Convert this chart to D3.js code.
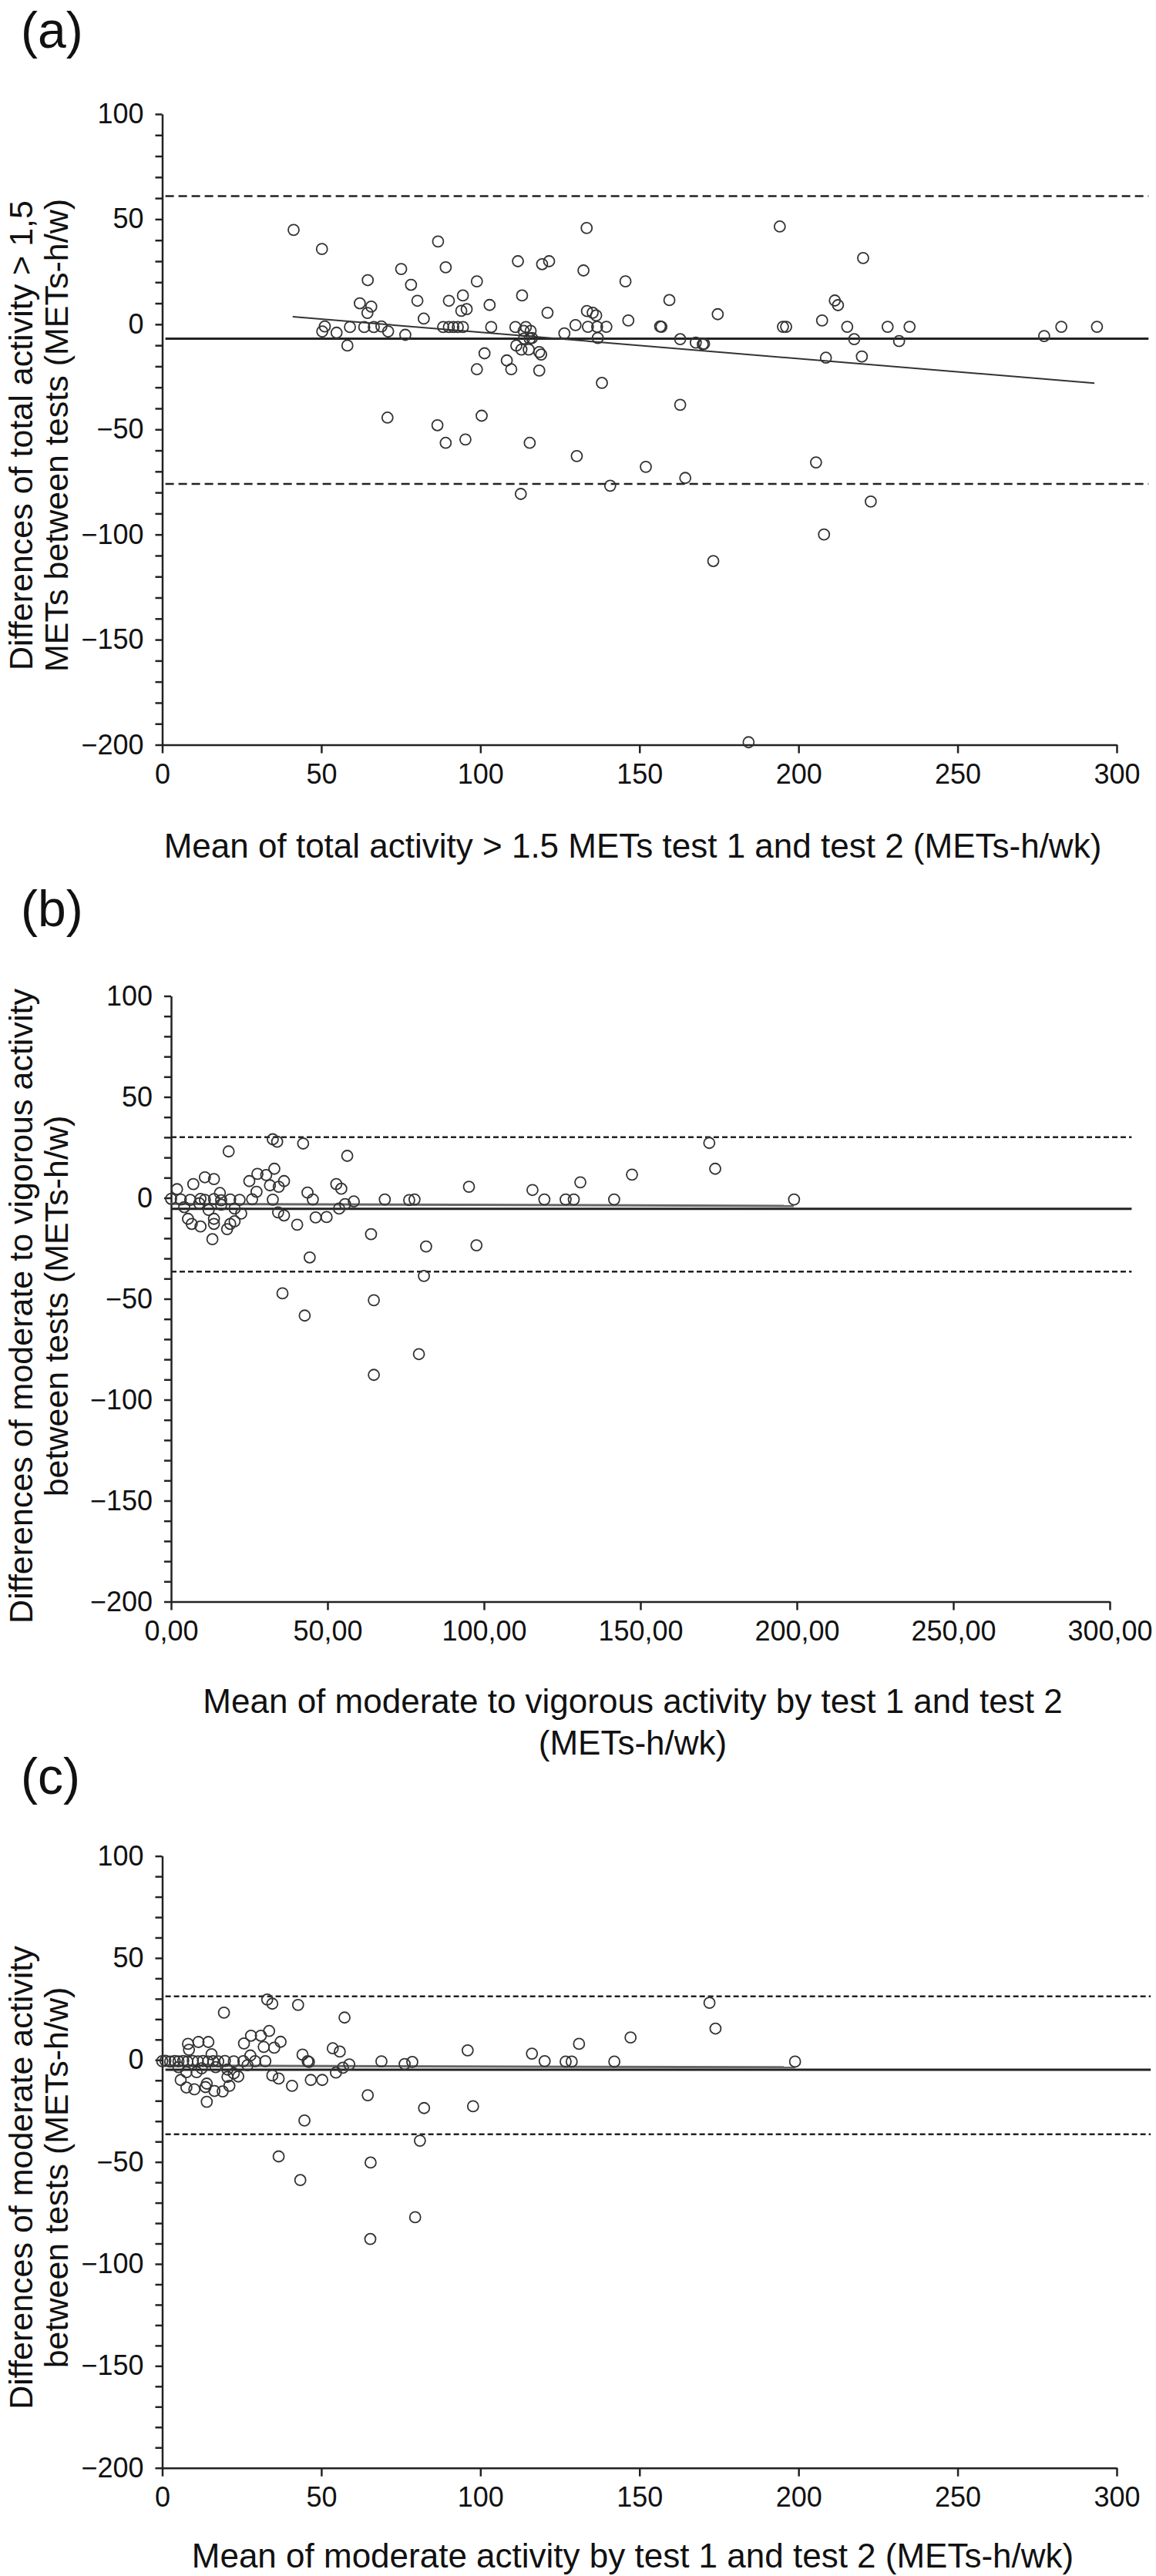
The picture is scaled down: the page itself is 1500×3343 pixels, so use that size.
<!DOCTYPE html>
<html>
<head>
<meta charset="utf-8">
<script src="https://cdn.jsdelivr.net/npm/d3@7"></script>
<style>
  body { margin: 0; background: #fff; }
  svg { display: block; font-family: "Liberation Sans", Arial, sans-serif; }
  .tick text { font-size: 36px; font-family: "Liberation Sans", Arial, sans-serif; fill: #111; }
  .domain, .tick line { stroke: #222; stroke-width: 2.5; }
</style>
</head>
<body>
<script>
// DATA: tick values shared by the three panels
const xTicks = [0, 50, 100, 150, 200, 250, 300];
const yTicks = d3.range(-200, 101, 10);   // labels only on the multiples of 50

// (a) total activity > 1.5 METs: [mean of tests, difference]
const totalPoints = [
  [41.3, 44.9], [50.2, 35.8], [86.7, 39.4],
  [75.1, 26.3], [89.1, 27.1], [111.8, 30], [64.6, 21], [78.2, 18.8], [98.9, 20.4],
  [62.1, 10], [65.7, 8.4], [64.5, 5.4], [80.2, 11.2], [90.1, 11.2], [94.5, 13.7],
  [94, 6.4], [95.7, 7.2], [113.1, 13.7], [102.9, 9.2], [82.2, 2.7], [51.1, -1],
  [50.3, -3.4], [54.8, -4], [59, -1.3], [63.5, -1.3], [66.5, -1.3], [68.9, -1],
  [71, -3.4], [76.4, -5], [58.2, -10.1], [88.3, -1.3], [90.1, -1.3], [91.5, -1.3],
  [92.9, -1.3], [94.5, -1.3], [103.4, -1.3], [111, -1.3], [114.3, -1.3], [113.6, -3.1],
  [115.8, -3.1], [113.7, -6.8], [115.5, -6.8], [111.3, -10.1], [112.9, -12], [115.2, -12],
  [118.5, -13.2], [101.3, -13.8], [98.9, -21.4], [108.3, -17.2], [109.7, -21.4], [118.5, -22],
  [70.8, -44.4], [100.4, -43.5], [86.5, -48], [89.1, -56.4], [95.3, -54.8], [115.5, -56.4],
  [112.7, -80.7],
  [133.4, 45.8], [194.1, 46.5], [119.4, 28.6], [121.6, 30], [132.4, 25.6], [220.3, 31.5],
  [145.6, 20.4], [159.4, 11.5], [211.4, 11.3], [212.4, 9.1], [121.1, 5.5], [133.5, 6.3],
  [135.3, 5.5], [136.4, 4.2], [174.6, 4.8], [146.5, 1.8], [207.4, 1.8], [129.9, -0.4],
  [133.8, -1.2], [136.7, -1.2], [139.6, -1.2], [156.5, -1], [156.9, -1.2], [195.1, -1.2],
  [196.1, -1.2], [215.3, -1.2], [228, -1.2], [234.9, -1.2], [126.4, -4.3], [136.9, -6.5],
  [116.2, -6.5], [162.8, -7.1], [167.7, -8.7], [169.9, -9.5], [170.3, -9.3], [217.5, -7.1],
  [231.6, -8], [208.6, -15.9], [219.9, -15.3], [119.1, -14.4], [138.2, -27.9], [162.8, -38.3],
  [130.3, -62.7], [152, -67.8], [140.8, -76.8], [164.4, -73.1], [205.5, -65.7], [222.7, -84.3],
  [208, -100], [173.2, -112.6], [184.3, -198.8],
  [277.2, -5.6], [282.6, -1.2], [293.8, -1.2]
];
const totalLimits = [61, -6.8, -75.9];          // upper limit, mean, lower limit
const totalTrend = [[41, 3.6], [293, -28]];

// (b) moderate to vigorous activity
const mvpaPoints = [
  [18.4, 23], [32.5, 29], [33.9, 27.8], [42.2, 26.9], [56.3, 20.8], [172, 27.2],
  [173.9, 14.4], [147.3, 11.5], [130.8, 7.7], [95.2, 5.5], [115.5, 3.9], [33, 14.4],
  [27.6, 11.9], [30.4, 11.3], [25, 8.3], [31.6, 6.2], [36.1, 8.3], [34.4, 5.5], [27.3, 3],
  [52.8, 6.8], [54.4, 4.5], [43.6, 2.6], [10.8, 10.2], [13.7, 9.3], [7.1, 6.8], [1.9, 4.3],
  [0, -0.5], [3.1, -0.8], [6.1, -1], [9.4, -0.5], [10.8, -1], [13.7, -0.6], [16, -1.2],
  [18.9, -0.8], [21.9, -1], [25.9, -0.7], [32.5, -0.9],
  [15.6, 2.4], [45.3, -0.8], [58.4, -1.8], [68.3, -0.8], [76.1, -1.1], [77.8, -0.8],
  [119.3, -0.8], [126.1, -0.8], [128.7, -0.8], [141.6, -0.8], [199.1, -0.8],
  [4.2, -4.6], [9, -2.7], [12, -6], [16, -3.4], [20.3, -5.3], [22.4, -7.8], [5.4, -10.4],
  [6.6, -12.9], [9.4, -14.2], [13.7, -10.4], [13.7, -12.9], [18.9, -12.9], [20.3, -11.6],
  [13.2, -20.5], [17.9, -15.5],
  [34.2, -7.2], [36.1, -8.7], [40.3, -13.3], [46.2, -9.7], [49.7, -9.5], [53.7, -5.3],
  [55.6, -3.1], [63.9, -18], [81.5, -24.1], [97.6, -23.5], [44.3, -29.5], [80.8, -38.7],
  [35.6, -47.3], [42.7, -58.3], [64.8, -50.7], [79.2, -77.4], [64.8, -87.7]
];
const mvpaLimits = [30.1, -5.4, -36.5];
const mvpaTrend = [[0, -3.0], [199, -4.0]];

// (c) moderate activity
const modPoints = [
  [33, 29.6], [34.6, 27.6], [42.7, 27], [19.4, 23.2], [57.3, 20.8], [33.6, 14.2],
  [27.9, 11.9], [31, 11.9], [37.2, 8.9], [25.7, 8.1], [8.1, 7.9], [11.4, 8.8], [14.5, 8.8],
  [31.9, 6.4], [35.2, 6], [53.6, 5.7], [55.8, 4.1], [96, 4.7], [116.2, 3.1], [8.4, 5],
  [15.5, 2.8], [27.7, 2.2], [44.1, 2.6],
  [0, -0.6], [1, -0.4], [2.5, -0.8], [3.9, -0.5], [5.1, -0.7], [6.6, -0.5], [7.9, -0.8],
  [9.6, -0.5], [11.2, -0.7], [12.8, -0.5], [14.4, -0.8], [16, -0.6], [17.6, -0.7],
  [19.7, -0.5], [22.5, -0.7], [25.5, -0.6], [29.2, -0.6], [32.4, -0.6],
  [45.7, -0.6], [46.1, -1], [68.9, -0.7], [76.2, -2], [78.6, -1], [120.2, -0.6],
  [58.8, -2.2], [56.8, -3.8], [26.8, -2.6],
  [5.1, -3.5], [7.6, -6], [10.8, -6], [12.4, -4.1], [16.8, -3.5], [20.5, -4.7], [22.5, -6.6],
  [23.9, -8.1], [20.5, -8.3], [5.8, -9.8], [54.6, -6.2], [34.6, -7.6], [36.6, -9.1],
  [46.7, -9.8], [50.3, -9.8], [14, -11.6], [13.6, -13.3], [21.1, -12.7], [7.6, -13.5],
  [10.1, -14.4], [16.4, -15.2], [19, -15.4], [40.8, -12.7], [14, -20.5], [64.6, -17.3],
  [82.3, -23.6], [97.7, -22.7], [44.7, -29.7], [81, -39.6], [36.6, -47.3], [65.5, -50.3],
  [43.4, -58.9], [79.5, -77.1], [65.4, -87.8],
  [172, 28], [173.9, 15.4], [147.2, 11], [131, 7.9], [126.8, -0.8], [128.7, -0.8],
  [142.1, -0.8], [198.9, -0.8]
];
const modLimits = [31.2, -4.8, -36.4];
const modTrend = [[0, -2.8], [199, -3.6]];

// SETUP: the svg page
const svg = d3.select("body").append("svg")
    .attr("width", 1500)
    .attr("height", 3343);

svg.append("rect").attr("width", 1500).attr("height", 3343).attr("fill", "#fff");

const commaFmt = d => d.toFixed(2).replace(".", ",");

// one Bland-Altman panel
function drawPanel(p) {
    const g = svg.append("g");

    const x = d3.scaleLinear().domain([0, 300]).range(p.xRange);
    const y = d3.scaleLinear().domain([-200, 100]).range(p.yRange);

    // axes (ticks every 10 on y, labels every 50)
    g.append("g")
        .attr("transform", `translate(${x(0)},0)`)
        .call(d3.axisLeft(y)
            .tickValues(yTicks)
            .tickSize(9)
            .tickSizeOuter(0)
            .tickPadding(15)
            .tickFormat(d => d % 50 === 0 ? d3.format("d")(d) : ""));

    g.append("g")
        .attr("transform", `translate(0,${y(-200)})`)
        .call(d3.axisBottom(x)
            .tickValues(xTicks)
            .tickSize(11)
            .tickSizeOuter(0)
            .tickPadding(14)
            .tickFormat(p.xFormat));

    // limits of agreement (dashed) and mean difference (solid)
    g.selectAll(".limit")
        .data([p.limits[0], p.limits[2]])
        .join("line")
        .attr("class", "limit")
        .attr("x1", x(p.lineFrom))
        .attr("x2", x(p.lineTo))
        .attr("y1", d => y(d))
        .attr("y2", d => y(d))
        .attr("stroke", "#222")
        .attr("stroke-width", 2.5)
        .attr("stroke-dasharray", p.dash);

    g.append("line")
        .attr("x1", x(p.lineFrom))
        .attr("x2", x(p.lineTo))
        .attr("y1", y(p.limits[1]))
        .attr("y2", y(p.limits[1]))
        .attr("stroke", "#222")
        .attr("stroke-width", 3);

    // trend line
    g.append("path")
        .datum(p.trend)
        .attr("d", d3.line().x(d => x(d[0])).y(d => y(d[1])))
        .attr("fill", "none")
        .attr("stroke", p.trendColor)
        .attr("stroke-width", p.trendWidth);

    // points
    g.selectAll("circle")
        .data(p.points)
        .join("circle")
        .attr("cx", d => x(d[0]))
        .attr("cy", d => y(d[1]))
        .attr("r", 7)
        .attr("fill", "none")
        .attr("stroke", "#333")
        .attr("stroke-width", 1.8);

    // titles
    p.xTitle.forEach((t, i) => {
        g.append("text")
            .attr("x", 821)
            .attr("y", p.xTitleY + i * 54)
            .attr("text-anchor", "middle")
            .attr("font-size", 44)
            .attr("fill", "#111")
            .text(t);
    });

    p.yTitle.forEach((t, i) => {
        g.append("text")
            .attr("transform", `translate(${42 + i * 46},${p.yTitleY}) rotate(-90)`)
            .attr("text-anchor", "middle")
            .attr("font-size", 43)
            .attr("fill", "#111")
            .text(t);
    });

    g.append("text")
        .attr("x", 27)
        .attr("y", p.labelY)
        .attr("font-size", 66)
        .attr("fill", "#111")
        .text(p.label);
}

drawPanel({
    label: "(a)", labelY: 62,
    points: totalPoints, limits: totalLimits, trend: totalTrend,
    trendColor: "#333", trendWidth: 2,
    xRange: [210.5, 1449], yRange: [966.5, 148],
    lineFrom: 1, lineTo: 310, dash: "11,6",
    xFormat: d3.format("d"),
    xTitle: ["Mean of total activity > 1.5 METs test 1 and test 2 (METs-h/wk)"], xTitleY: 1113,
    yTitle: ["Differences of total activity > 1,5", "METs between tests (METs-h/w)"], yTitleY: 565
});

drawPanel({
    label: "(b)", labelY: 1202,
    points: mvpaPoints, limits: mvpaLimits, trend: mvpaTrend,
    trendColor: "#666", trendWidth: 3,
    xRange: [222, 1440], yRange: [2078.5, 1292.5],
    lineFrom: 0, lineTo: 307, dash: "7,4",
    xFormat: commaFmt,
    xTitle: ["Mean of moderate to vigorous activity by test 1 and test 2", "(METs-h/wk)"], xTitleY: 2223,
    yTitle: ["Differences of moderate to vigorous activity", "between tests (METs-h/w)"], yTitleY: 1695
});

drawPanel({
    label: "(c)", labelY: 2328,
    points: modPoints, limits: modLimits, trend: modTrend,
    trendColor: "#666", trendWidth: 3,
    xRange: [210.5, 1449], yRange: [3202.7, 2408.6],
    lineFrom: 1, lineTo: 310.7, dash: "7,4",
    xFormat: d3.format("d"),
    xTitle: ["Mean of moderate activity by test 1 and test 2 (METs-h/wk)"], xTitleY: 3332,
    yTitle: ["Differences of moderate activity", "between tests (METs-h/w)"], yTitleY: 2826
});
</script>
</body>
</html>
